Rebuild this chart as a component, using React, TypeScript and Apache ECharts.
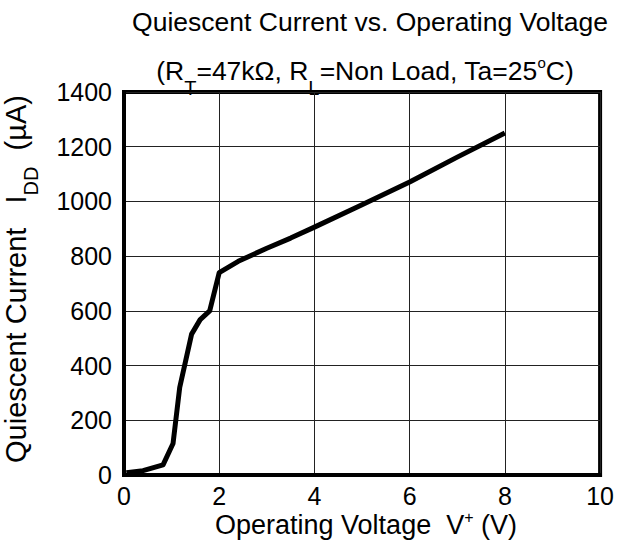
import React, { useEffect, useRef } from 'react';
import * as echarts from 'echarts';

const voltage = [0.05, 0.4, 0.82, 1.03, 1.17, 1.42, 1.6, 1.8, 2.0, 2.4, 3.0, 3.5, 4.0, 5.0, 6.0, 7.0, 8.0];
const current = [8, 16, 37, 115, 320, 515, 568, 600, 740, 781, 829, 866, 906, 988, 1071, 1162, 1250];

const titleLine1 = 'Quiescent Current vs. Operating Voltage';
const FONT = '"Liberation Sans", Arial, sans-serif';

export default function App() {
  const ref = useRef<HTMLDivElement>(null);
  useEffect(() => {
    const chart = echarts.init(ref.current!, null, { renderer: 'svg' });
    const base = { fontFamily: FONT, fill: '#000', color: '#000' };
    chart.setOption({
      animation: false,
      backgroundColor: '#fff',
      grid: {
        left: 124, top: 92, width: 480, height: 383,
        show: true, borderColor: '#000', borderWidth: 4, containLabel: false,
      },
      xAxis: {
        type: 'value', min: 0, max: 10, interval: 2,
        axisLine: { show: true, lineStyle: { color: '#000', width: 4 } },
        axisTick: { show: false },
        splitLine: { show: true, lineStyle: { color: '#222', width: 1 } },
        axisLabel: { color: '#000', fontSize: 25, fontFamily: FONT, margin: 8, formatter: (v: number) => String(v) },
      },
      yAxis: {
        type: 'value', min: 0, max: 1400, interval: 200,
        axisLine: { show: true, lineStyle: { color: '#000', width: 4 } },
        axisTick: { show: false },
        splitLine: { show: true, lineStyle: { color: '#222', width: 1 } },
        axisLabel: { color: '#000', fontSize: 25, fontFamily: FONT, margin: 12, formatter: (v: number) => String(v) },
      },
      series: [{
        type: 'line',
        data: voltage.map((v, i) => [v, current[i]]),
        showSymbol: false,
        lineStyle: { color: '#000', width: 5, join: 'round' },
        z: 5,
      }],
      graphic: [
        {
          type: 'text', x: 370, y: 22,
          style: { text: titleLine1, fontSize: 26.5, fontFamily: FONT, fill: '#000', align: 'center', verticalAlign: 'middle' },
        },
        {
          type: 'text', x: 365, y: 71,
          style: {
            text: '{n|(R}{s|T}{n|=47kΩ, R}{s|L}{n|=Non Load, Ta=25}{p|o}{n|C)}',
            align: 'center', verticalAlign: 'middle', fill: '#000',
            rich: {
              n: { ...base, fontSize: 26.5 },
              s: { ...base, fontSize: 20, padding: [34, 0, 0, 0] },
              p: { ...base, fontSize: 15, padding: [0, 0, 18, 0] },
            },
          },
        },
        {
          type: 'text', x: 16, y: 279, rotation: Math.PI / 2,
          style: {
            text: '{n|Quiescent Current   I}{s|DD}{n|  (µA)}',
            align: 'center', verticalAlign: 'middle', fill: '#000',
            rich: {
              n: { ...base, fontSize: 29 },
              s: { ...base, fontSize: 20, padding: [30, 0, 0, 0] },
            },
          },
        },
        {
          type: 'text', x: 366, y: 525,
          style: {
            text: '{n|Operating Voltage  V}{p|+}{n| (V)}',
            align: 'center', verticalAlign: 'middle', fill: '#000',
            rich: {
              n: { ...base, fontSize: 27 },
              p: { ...base, fontSize: 16, padding: [0, 0, 16, 0] },
            },
          },
        },
      ],
    });
    return () => chart.dispose();
  }, []);
  return <div ref={ref} style={{ position: 'fixed', left: 0, top: 0, width: 617, height: 546 }} />;
}
